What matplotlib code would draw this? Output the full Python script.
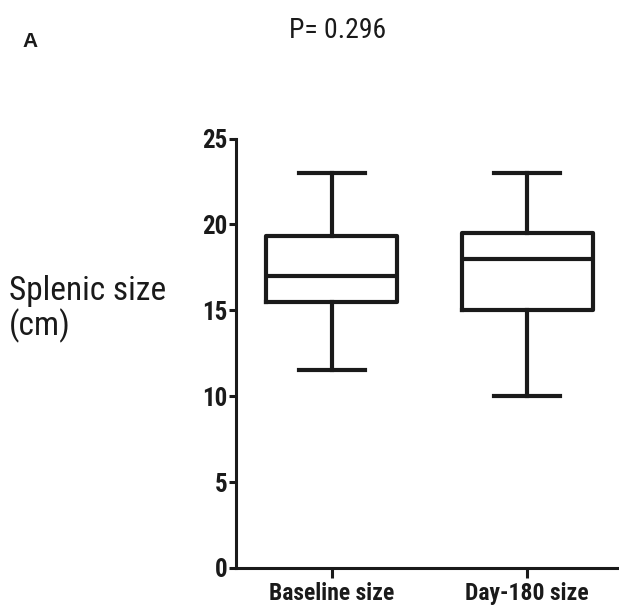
import matplotlib
matplotlib.use("Agg")
import matplotlib.pyplot as plt

# box statistics
groups = ["Baseline size", "Day-180 size"]
whislo = [11.5, 10.0]
q1 = [15.5, 15.0]
med = [17.0, 18.0]
q3 = [19.3, 19.5]
whishi = [23.0, 23.0]
yticks = [0, 5, 10, 15, 20, 25]

NARROW = ["Roboto Condensed", "Archivo Narrow", "DejaVu Sans"]
INK = "#1a1a1a"

fig = plt.figure(figsize=(6.19, 6.16), dpi=100)
ax = fig.add_axes([0.381, 0.078, 0.619, 0.697])

stats = [dict(label=g, whislo=lo, q1=a, med=m, q3=b, whishi=hi, fliers=[])
         for g, lo, a, m, b, hi in zip(groups, whislo, q1, med, q3, whishi)]
lw = 3.0
ax.bxp(stats, positions=[1, 2], widths=0.67, showfliers=False,
       boxprops=dict(linewidth=lw, color=INK),
       medianprops=dict(linewidth=lw, color=INK),
       whiskerprops=dict(linewidth=lw, color=INK),
       capprops=dict(linewidth=lw, color=INK),
       capwidths=0.34)

ax.set_xlim(0.508, 2.47)
ax.set_ylim(0, 25)
ax.set_yticks(yticks)
ax.set_xticks([1, 2], groups)
for s in ("top", "right"):
    ax.spines[s].set_visible(False)
for s in ("left", "bottom"):
    ax.spines[s].set_linewidth(2.2)
    ax.spines[s].set_color(INK)
ax.tick_params(axis="x", width=2.2, length=7, color=INK, pad=3)
ax.tick_params(axis="y", width=2.2, length=5, color=INK, pad=1)
for lab in ax.get_yticklabels():
    lab.set_fontfamily(NARROW)
    lab.set_fontweight("bold")
    lab.set_fontsize(18)
    lab.set_color(INK)
for lab in ax.get_xticklabels():
    lab.set_fontfamily(NARROW)
    lab.set_fontweight("bold")
    lab.set_fontsize(17)
    lab.set_color(INK)

fig.text(0.015, 0.498, "Splenic size\n(cm)", fontsize=24, family=NARROW,
         ha="left", va="center", linespacing=1.05, color=INK)
fig.text(0.545, 0.951, "P= 0.296", fontsize=20, family=NARROW, ha="center",
         va="center", color=INK)
fig.text(0.037, 0.933, "A", fontsize=15, family="Liberation Sans", fontweight="bold",
         ha="left", va="center", color=INK)

fig.savefig("out.png", dpi=100)
